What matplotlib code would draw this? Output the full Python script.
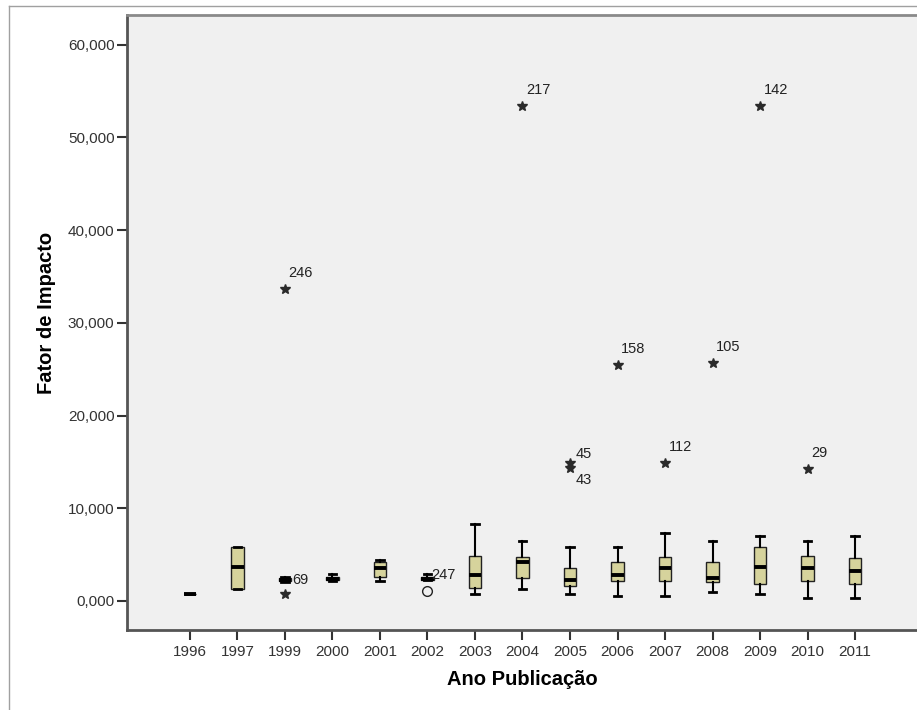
import matplotlib
matplotlib.use("Agg")
import matplotlib.pyplot as plt
from matplotlib.lines import Line2D

years = ['1996', '1997', '1999', '2000', '2001', '2002', '2003', '2004',
         '2005', '2006', '2007', '2008', '2009', '2010', '2011']
whislo = [0.72, 1.29, 2.10, 2.20, 2.19, 2.25, 0.76, 1.29, 0.76, 0.57, 0.57, 0.94, 0.76, 0.29, 0.36]
q1 = [0.72, 1.29, 2.12, 2.22, 2.62, 2.27, 1.37, 2.52, 1.65, 2.19, 2.19, 2.08, 1.83, 2.19, 1.83]
med = [0.72, 3.67, 2.30, 2.35, 3.60, 2.40, 2.80, 4.24, 2.27, 2.80, 3.52, 2.45, 3.70, 3.52, 3.24]
q3 = [0.74, 5.86, 2.50, 2.55, 4.20, 2.55, 4.89, 4.78, 3.59, 4.24, 4.71, 4.21, 5.86, 4.85, 4.60]
whishi = [0.74, 5.86, 2.60, 2.95, 4.42, 2.95, 8.27, 6.47, 5.86, 5.86, 7.30, 6.47, 7.05, 6.47, 7.05]

# casos atipicos: ano, valor, rotulo, tipo (extremo = estrela, atipico = circulo)
out_year = ['1999', '1999', '2002', '2004', '2005', '2005', '2006', '2007', '2008', '2009', '2010']
out_value = [33.66, 0.75, 1.11, 53.4, 14.85, 14.3, 25.46, 14.85, 25.67, 53.4, 14.2]
out_label = ['246', '69', '247', '217', '45', '43', '158', '112', '105', '142', '29']
out_extreme = [True, True, False, True, True, True, True, True, True, True, True]

yticks = [0, 10, 20, 30, 40, 50, 60]

FONT = ['Liberation Sans', 'DejaVu Sans']
plt.rcParams['font.family'] = FONT

fig = plt.figure(figsize=(9.17, 7.10), dpi=100)
ax = fig.add_axes([127 / 917, 80 / 710, 1 - 127 / 917, 615 / 710])
ax.set_facecolor('#f0f0f0')

stats = []
for i in range(len(years)):
    stats.append(dict(whislo=whislo[i], q1=q1[i], med=med[i], q3=q3[i], whishi=whishi[i]))

pos = list(range(len(years)))
ax.bxp(stats, positions=pos, widths=0.27, showfliers=False, patch_artist=True,
       boxprops=dict(facecolor='#d6d39c', edgecolor='#222222', linewidth=1.0),
       medianprops=dict(color='black', linewidth=2.8, solid_capstyle='butt'),
       whiskerprops=dict(color='black', linewidth=1.5),
       capprops=dict(color='black', linewidth=2.0),
       capwidths=0.15)

# deslocamento dos rotulos (pontos)
label_off = {'45': (4, 7), '43': (4, -8), '69': (5, 10)}
for yr, v, lab, ext in zip(out_year, out_value, out_label, out_extreme):
    x = years.index(yr)
    if ext:
        ax.plot(x, v, marker='*', color='#2a2a2a', markersize=7.5, linestyle='none')
    else:
        ax.plot(x, v, marker='o', mfc='none', mec='#222222', markersize=7,
                mew=1.0, linestyle='none')
    dx, dy = label_off.get(lab, (2.5, 11.5))
    ax.annotate(lab, (x, v), xytext=(dx, dy), textcoords='offset points',
                ha='left', va='center', fontsize=10.5, color='#222222')

ax.set_xlim(-1.326, 15.305)
ax.set_ylim(-3.13, 63.2)
ax.set_xticks(pos)
ax.set_xticklabels(years)
ax.set_yticks(yticks)
ax.set_yticklabels([('%.3f' % t).replace('.', ',') for t in yticks])
ax.tick_params(axis='both', labelsize=11, colors='#333333', length=7, width=1.5)
ax.tick_params(axis='x', pad=4)
ax.tick_params(axis='y', pad=2)

for side in ['left', 'bottom']:
    ax.spines[side].set_color('#555555')
    ax.spines[side].set_linewidth(2)
ax.spines['top'].set_color('#8a8a8a')
ax.spines['top'].set_linewidth(2)
ax.spines['right'].set_visible(False)

ax.set_ylabel('Fator de Impacto', fontsize=14.5, fontweight='bold')
ax.yaxis.set_label_coords(-0.09, 0.515)
ax.set_xlabel('Ano Publicação', fontsize=14.5, fontweight='bold')
ax.xaxis.set_label_coords(0.5, -0.065)

# moldura externa
fig.add_artist(Line2D([9 / 917, 9 / 917], [0, 1 - 6 / 710], color='#a0a0a0', lw=1))
fig.add_artist(Line2D([9 / 917, 1], [1 - 6 / 710, 1 - 6 / 710], color='#a0a0a0', lw=1))

fig.savefig('out.png', dpi=100)
